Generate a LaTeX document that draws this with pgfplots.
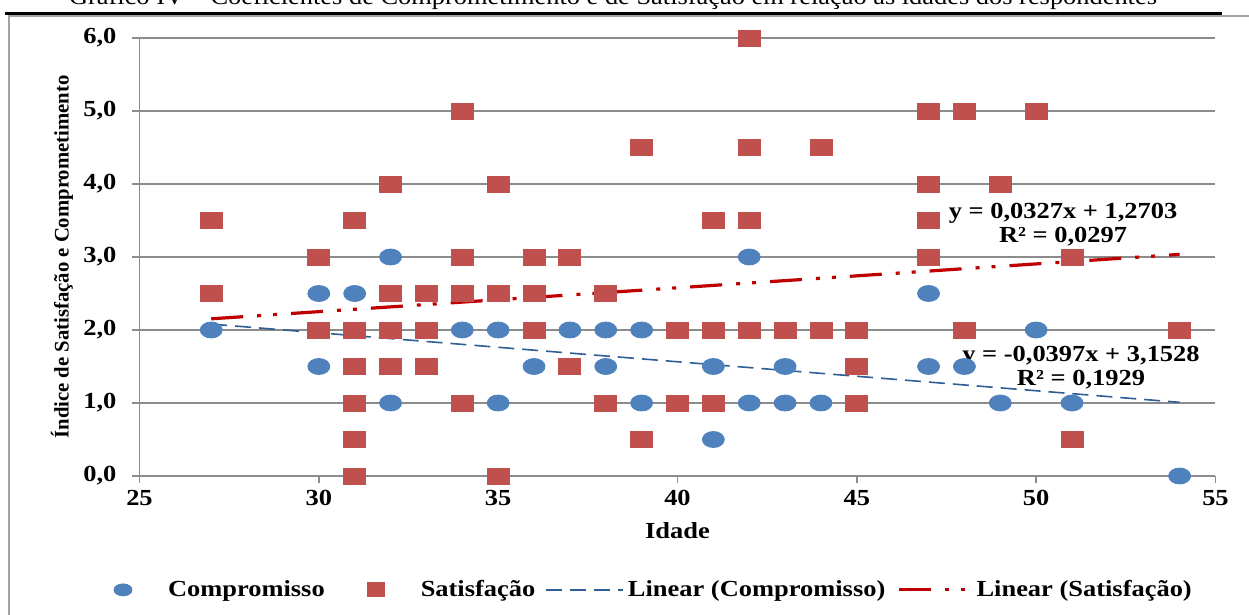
\documentclass[border=0pt]{standalone}
\usepackage{fontspec}
\setmainfont{Liberation Serif}[FakeStretch=1.15]
\newfontfamily\titlefont{Liberation Serif}[FakeStretch=1.1]
\newfontfamily\ylabfont{Liberation Serif}
\usepackage{pgfplots}
\pgfplotsset{compat=1.18}
\definecolor{cblue}{HTML}{4F81BD}
\definecolor{cred}{HTML}{C0504D}
\definecolor{tblue}{HTML}{2F5D95}
\definecolor{tred}{HTML}{C00000}
\definecolor{gridgray}{HTML}{8C8C8C}
\newcommand{\px}[2]{({(#1-139.5)*0.5pt},{(476-#2)*0.5pt})}
\pgfplotsset{
  trendlegend/.style={legend image code/.code={\draw[##1] (0pt,0pt) -- (#1,0pt);}},
  circlegend/.style={legend image code/.code={\path[draw=none, fill=none] (0pt,0pt) -- (25pt,0pt); \draw[mark=*, mark size=3pt, mark options={xscale=1.5, fill=cblue, draw=cblue}] plot coordinates {(4.5pt,0pt)};}},
  sqlegend/.style={legend image code/.code={\path[draw=none, fill=none] (0pt,0pt) -- (25pt,0pt); \draw[mark=square*, mark size=3.5pt, mark options={xscale=1.2, fill=cred, draw=cred}] plot coordinates {(4.5pt,0pt)};}},
}
\pgfplotstableread{
x y
27 2.0
30 2.5
30 1.5
31 2.5
32 3.0
32 1.0
34 2.0
35 2.0
35 1.0
36 1.5
37 2.0
38 2.0
38 1.5
39 2.0
39 1.0
41 1.5
41 0.5
42 3.0
42 1.0
43 1.5
43 1.0
44 1.0
47 2.5
47 1.5
48 1.5
49 1.0
50 2.0
51 1.0
54 0.0
}\compromisso
\pgfplotstableread{
x y
27 3.5
27 2.5
30 3.0
30 2.0
31 3.5
31 2.0
31 1.5
31 1.0
31 0.5
31 0.0
32 4.0
32 2.5
32 2.0
32 1.5
33 2.5
33 2.0
33 1.5
34 5.0
34 3.0
34 2.5
34 1.0
35 4.0
35 2.5
35 0.0
36 3.0
36 2.5
36 2.0
37 3.0
37 1.5
38 2.5
38 1.0
39 4.5
39 0.5
40 2.0
40 1.0
41 3.5
41 2.0
41 1.0
42 6.0
42 4.5
42 3.5
42 2.0
43 2.0
44 4.5
44 2.0
45 2.0
45 1.5
45 1.0
47 5.0
47 4.0
47 3.5
47 3.0
48 5.0
48 2.0
49 4.0
50 5.0
51 3.0
51 0.5
54 2.0
}\satisfacao
\begin{document}
\begin{tikzpicture}
\begin{axis}[
  at={(0,0)}, anchor=south west,
  scale only axis, width=538pt, height=219pt,
  xmin=25, xmax=55, ymin=0, ymax=6,
  xtick={25,30,...,55}, ytick={0,1,...,6},
  axis x line*=bottom, axis y line*=left,
  axis line style={gridgray, line width=0.8pt, -},
  ymajorgrids, grid style={gridgray, line width=0.8pt},
  tick align=outside, major tick length=3.5pt,
  tick style={gridgray, line width=0.8pt},
  font=\bfseries\fontsize{11.5}{13.8}\selectfont,
  /pgf/number format/assume math mode=true,
  yticklabel style={xshift=-4.5pt, /pgf/number format/.cd, fixed, fixed zerofill, precision=1, use comma},
  xticklabel style={/pgf/number format/.cd, fixed, precision=0},
  xlabel={Idade},
  xlabel style={at={(axis description cs:0.5,-0.125)}, anchor=center},
  ylabel={{\ylabfont\bfseries\fontsize{10.35}{12}\selectfont Índice de Satisfação e Comprometimento}},
  ylabel style={at={(axis description cs:-0.072,0.5)}, anchor=center},
  clip=false,
  legend columns=4,
  legend style={at={(axis description cs:0.479,-0.26)}, anchor=center, draw=none, fill=none,
    font=\bfseries\fontsize{11.5}{13.8}\selectfont,
    /tikz/column 2/.style={column sep=19pt},
    /tikz/column 4/.style={column sep=3pt},
    /tikz/column 6/.style={column sep=4pt}},
  legend cell align=left,
]
\addplot[only marks, mark=*, mark size=4pt, mark options={xscale=1.375, fill=cblue, draw=cblue}, circlegend] table[x=x,y=y]{\compromisso};
\addlegendentry{Compromisso}
\addplot[only marks, mark=square*, mark size=4pt, mark options={xscale=1.375, fill=cred, draw=cred}, sqlegend] table[x=x,y=y]{\satisfacao};
\addlegendentry{Satisfação}
\addplot[tblue, line width=0.8pt, dash pattern=on 8pt off 4pt, trendlegend=38.5pt] coordinates {(27,2.0809) (54,1.0090)};
\addlegendentry{Linear (Compromisso)}
\addplot[tred, line width=1.6pt, dash pattern=on 16pt off 7pt on 2pt off 6pt on 2pt off 7pt, trendlegend=36pt] coordinates {(27,2.1532) (54,3.0361)};
\addlegendentry{Linear (Satisfação)}
\node[align=center, font=\bfseries\fontsize{11.5}{12}\selectfont] at (axis cs:50.75,3.45) {y = 0,0327x + 1,2703\\R² = 0,0297};
\node[align=center, font=\bfseries\fontsize{11.5}{12}\selectfont] at (axis cs:51.25,1.49) {y = -0,0397x + 3,1528\\R² = 0,1929};
\end{axis}
\node[anchor=base, font=\titlefont\fontsize{12}{14}\selectfont] at \px{613}{5} {Gráfico IV – Coeficientes de Comprometimento e de Satisfação em relação às idades dos respondentes};
\draw[black, line width=1.2pt] \px{5}{13.5} -- \px{1222}{13.5};
\draw[gridgray!80, line width=0.8pt] \px{9}{640} -- \px{9}{16} -- \px{1260}{16};
\pgfresetboundingbox
\useasboundingbox \px{0}{0} rectangle \px{1249}{615};
\end{tikzpicture}
\end{document}
